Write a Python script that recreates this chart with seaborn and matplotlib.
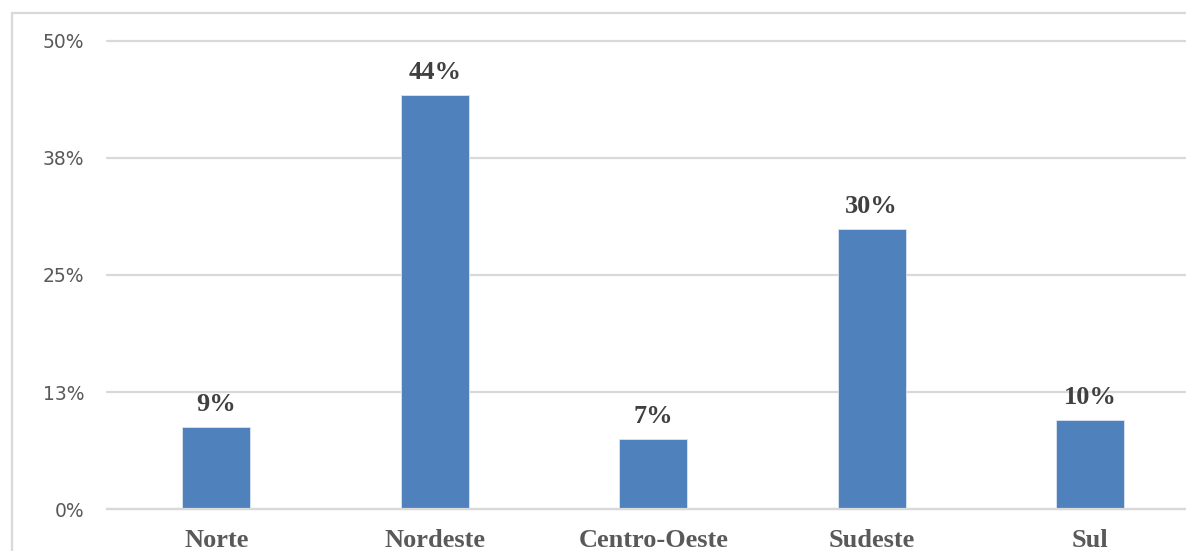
import matplotlib
matplotlib.use("Agg")
import matplotlib.pyplot as plt
from matplotlib.lines import Line2D
import seaborn as sns
import pandas as pd

regions = ["Norte", "Nordeste", "Centro-Oeste", "Sudeste", "Sul"]
shares = [8.8, 44.2, 7.5, 29.9, 9.5]
bar_labels = ["9%", "44%", "7%", "30%", "10%"]
yticks = [0, 12.5, 25, 37.5, 50]
ytick_labels = ["0%", "13%", "25%", "38%", "50%"]


def init_plt():
    sns.set_theme(style="white")
    plt.rcParams.update({
        "font.family": ["DejaVu Sans"],
    })


def region_bars():
    df = pd.DataFrame({"region": regions, "share": shares})

    W, H = 1186, 551
    fig = plt.figure(figsize=(W / 100, H / 100), dpi=100)
    ax = fig.add_axes([107 / W, 41.7 / H, 1092.5 / W, 468.6 / H])

    sns.barplot(data=df, x="region", y="share", color="#4F81BD",
                saturation=1, width=0.31, edgecolor="#dce6f2",
                linewidth=0.6, ax=ax)

    ax.set_ylim(0, 50)
    ax.set_yticks(yticks)
    ax.set_yticklabels(ytick_labels)
    ax.yaxis.grid(True, color="#d9d9d9", linewidth=1.6)
    for gl in ax.yaxis.get_gridlines():
        gl.set_clip_on(False)
    ax.set_axisbelow(True)
    for s in ["top", "right", "left"]:
        ax.spines[s].set_visible(False)
    ax.spines["bottom"].set_color("#d9d9d9")
    ax.spines["bottom"].set_linewidth(1.6)

    ax.tick_params(axis="y", length=0, pad=16.5, labelsize=13.5,
                   labelcolor="#595959")
    ax.tick_params(axis="x", length=0, pad=14.5)
    for lab in ax.get_xticklabels():
        lab.set_fontfamily(["Liberation Serif"])
        lab.set_fontweight("bold")
        lab.set_fontsize(19)
        lab.set_color("#595959")
    ax.set_xlabel("")
    ax.set_ylabel("")

    for i, (v, t) in enumerate(zip(shares, bar_labels)):
        ax.annotate(t, (i, v), xytext=(0, 11.5), textcoords="offset points",
                    ha="center", va="baseline", fontsize=19,
                    fontweight="bold", family=["Liberation Serif"],
                    color="#404040")

    # outer chart border (Excel style), cut by the image edge
    x0 = 11.5 / W
    y0 = 1 - 13 / H
    fig.add_artist(Line2D([x0, x0], [0, y0], transform=fig.transFigure,
                          color="#d9d9d9", linewidth=1.6))
    fig.add_artist(Line2D([x0, 1], [y0, y0], transform=fig.transFigure,
                          color="#d9d9d9", linewidth=1.6))

    fig.savefig("out.png", dpi=100)


def main():
    init_plt()
    region_bars()


if __name__ == '__main__':
    main()
